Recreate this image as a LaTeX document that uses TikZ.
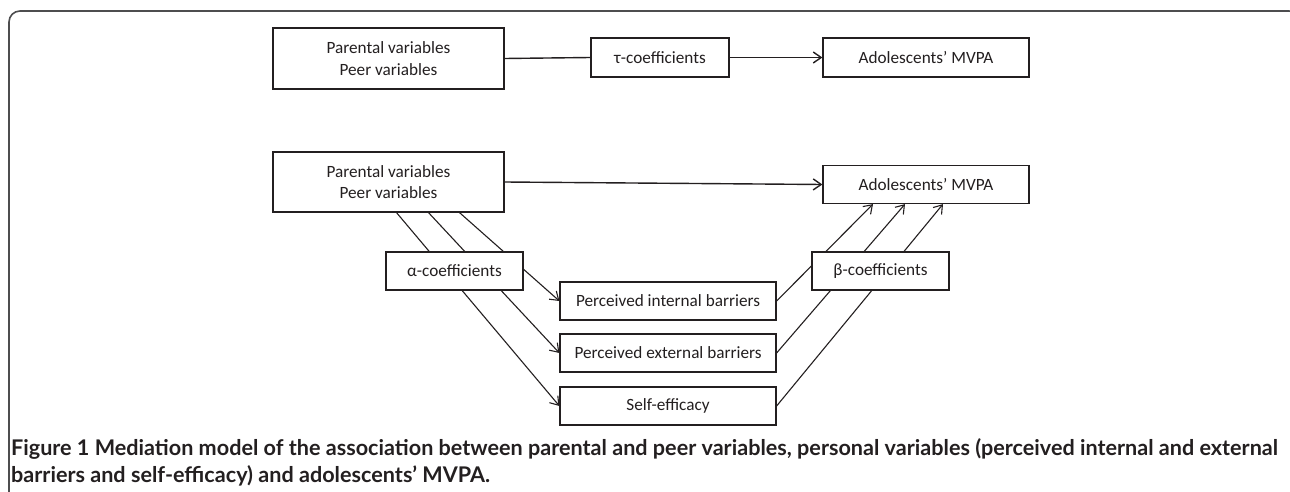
\documentclass[tikz,border=0pt]{standalone}
\usepackage{fontspec}
\setmainfont{Carlito}
\newfontfamily\capfont{Lato}
\usetikzlibrary{arrows.meta}
\definecolor{ink}{HTML}{231F20}
\definecolor{framegray}{HTML}{4D4D4F}

\begin{document}
\begin{tikzpicture}[x=1pt, y=-1pt, ink,
        box/.style={draw=ink, line width=1.2pt, fill=white, inner sep=0pt, align=center,
            font=\fontsize{17.2}{21.5}\selectfont},
        link/.style={line width=1.4pt},
        tip/.style={line width=1.1pt, -{Straight Barb[length=8pt, width=11pt]}}]
        \useasboundingbox (0,0) rectangle (1290,492);
        \draw[framegray, line width=1.6pt, rounded corners=11] (9,500) -- (9,11) -- (1300,11) -- (1300,60);

        % total effect
        \node[box, minimum width=231, minimum height=61] (par1) at (388.5,58.5) {Parental variables\\Peer variables};
        \node[box, minimum width=138, minimum height=39] (tau) at (660,57.5) {τ-coefficients};
        \node[box, minimum width=206, minimum height=39] (mvpa1) at (926,57.5) {Adolescents’ MVPA};
        \draw[link] (par1.east) -- (tau.west);
        \draw[tip, line width=1.4pt] (tau.east) -- (mvpa1.west);

        % mediation
        \node[box, minimum width=231, minimum height=60] (par2) at (388.5,182) {Parental variables\\Peer variables};
        \node[box, minimum width=206, minimum height=38] (mvpa2) at (926,184.5) {Adolescents’ MVPA};
        \node[box, minimum width=216, minimum height=38] (inbar) at (668,301) {Perceived internal barriers};
        \node[box, minimum width=216, minimum height=38] (exbar) at (668,353) {Perceived external barriers};
        \node[box, minimum width=216, minimum height=38] (selfeff) at (668,406) {Self-efficacy};
        \draw[tip, line width=1.4pt] (par2.east) -- (mvpa2.west);

        \draw[tip] ([xshift=8pt]par2.south) -- (selfeff.west);
        \draw[tip] ([xshift=40pt]par2.south) -- (exbar.west);
        \draw[tip] ([xshift=71pt]par2.south) -- (inbar.west);
        \draw[tip] (inbar.east) -- ([xshift=-53pt]mvpa2.south);
        \draw[tip] (exbar.east) -- ([xshift=-21pt]mvpa2.south);
        \draw[tip] (selfeff.east) -- ([xshift=17pt]mvpa2.south);

        \node[box, minimum width=137, minimum height=38] (alpha) at (454.5,271) {α-coefficients};
        \node[box, minimum width=137, minimum height=38] (beta) at (880.5,271) {β-coefficients};

        \node[anchor=base west, align=left, inner sep=0pt, text=ink,
            font=\capfont\fontsize{21.6}{27}\selectfont\bfseries] (caption) at (11,482)
            {Figure 1 Mediation model of the association between parental and peer variables, personal variables (perceived internal and external\\
            barriers and self-efficacy) and adolescents’ MVPA.};
\end{tikzpicture}
\end{document}
